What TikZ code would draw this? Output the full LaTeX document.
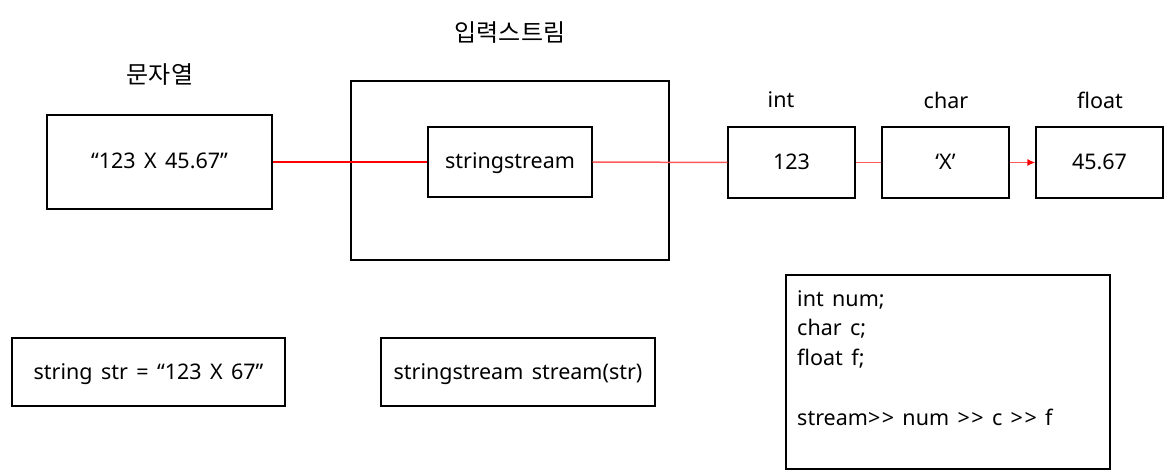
\documentclass[tikz,border=0pt]{standalone}
\usepackage{fontspec}
\setmainfont[WordSpace={1.5}]{Noto Sans}
\newfontfamily\kor{Noto Sans CJK KR}
\usetikzlibrary{arrows.meta}
\tikzset{
  box/.style={draw=black, line width=1.2pt, inner sep=0pt},
  lbl/.style={font=\fontsize{21.5}{25}\selectfont},
  mid/.style={text height=16pt, text depth=2pt},
  klbl/.style={font=\fontsize{24}{28}\selectfont\kor},
  link/.style={draw=red, line width=1.4pt},
  linklight/.style={draw=red!65, line width=1.5pt},
}
\begin{document}
\begin{tikzpicture}[x=1pt,y=-1pt]
\useasboundingbox[fill=white] (0,0) rectangle (1171,473);
% boxes
\node[box, minimum width=225pt, minimum height=94pt, lbl, mid] (str) at (159.5,162) {“123 X 45.67”};
\node[box, minimum width=318pt, minimum height=179pt] (outer) at (510,170.5) {};
\node[box, minimum width=164pt, minimum height=70pt, lbl, mid] (ss) at (510,162) {stringstream};
\node[box, minimum width=127pt, minimum height=71pt, lbl, mid] (int) at (791.5,162.5) {123};
\node[box, minimum width=127pt, minimum height=71pt, lbl, mid] (chr) at (945.5,162.5) {‘X’};
\node[box, minimum width=127pt, minimum height=71pt, lbl, mid] (flt) at (1099.5,162.5) {45.67};
% labels
\node[klbl] (lstr) at (160,75) {문자열};
\node[klbl] (lin) at (510,33) {입력스트림};
\node[lbl] (lint) at (781,100) {int};
\node[lbl] (lchr) at (946,100) {char};
\node[lbl] (lflt) at (1100,100) {float};
% bottom
\node[box, minimum width=273pt, minimum height=68pt, lbl, mid] (decl) at (148.5,372) {string str = “123 X 67”};
\node[box, minimum width=274pt, minimum height=68pt, lbl, mid] (ctor) at (518,372) {stringstream stream(str)};
\node[box, minimum width=324pt, minimum height=194pt] (code) at (948,372) {};
\node[lbl, anchor=north west, align=left, inner sep=0pt] (codetext) at (797,290)
  {int num;\\[4.5pt] char c;\\[4.5pt] float f;\\[35pt] stream>{}\kern1.5pt> num >{}\kern1.5pt> c >{}\kern1.5pt> f};
% connectors
\draw[link] (str.east) -- (ss.west);
\draw[linklight] (ss.east) -- (int.west);
\draw[linklight] (int.east) -- (chr.west);
\draw[linklight, -{Latex[length=8pt,width=7pt,red]}] (chr.east) -- (flt.west);
\end{tikzpicture}
\end{document}
